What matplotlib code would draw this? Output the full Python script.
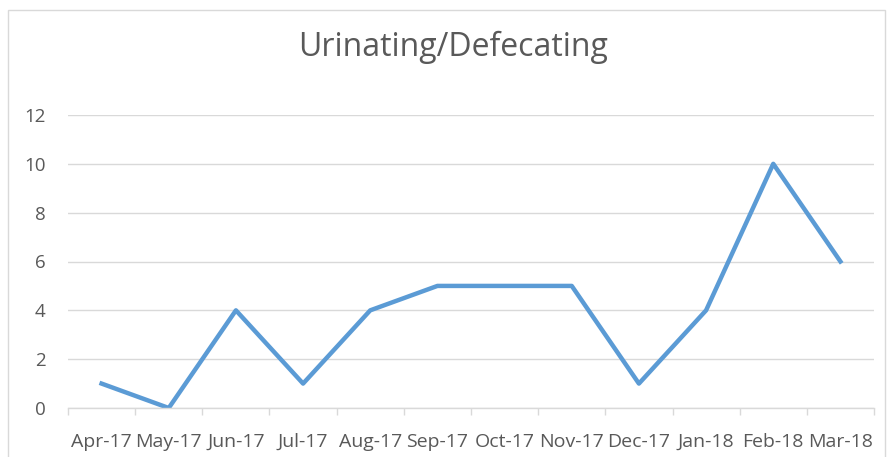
import matplotlib
matplotlib.use('Agg')
import matplotlib.pyplot as plt
from matplotlib.patches import Rectangle
import numpy as np

months = ['Apr-17', 'May-17', 'Jun-17', 'Jul-17', 'Aug-17', 'Sep-17',
          'Oct-17', 'Nov-17', 'Dec-17', 'Jan-18', 'Feb-18', 'Mar-18']
counts = [1, 0, 4, 1, 4, 5, 5, 5, 1, 4, 10, 6]
y_ticks = [0, 2, 4, 6, 8, 10, 12]

text_color = '#595959'
grid_color = '#D9D9D9'
line_color = '#5B9BD5'

plt.rcParams['font.family'] = ['Open Sans', 'DejaVu Sans']

W, H = 889, 457
fig = plt.figure(figsize=(W / 100, H / 100), dpi=100)
ax = fig.add_axes([68 / W, (H - 408) / H, (874 - 68) / W, (408 - 115) / H])

x = np.arange(len(months))
ax.plot(x, counts, color=line_color, linewidth=3.2, solid_joinstyle='round')

ax.set_xlim(-0.5, len(months) - 0.5)
ax.set_ylim(0, 12)
ax.set_yticks(y_ticks)
ax.set_xticks(x)
ax.set_xticklabels(months)
ax.set_xticks(np.arange(-0.5, len(months)), minor=True)
ax.tick_params(axis='x', which='major', length=0, pad=18, labelsize=14, colors=text_color)
ax.tick_params(axis='x', which='minor', length=5, color=grid_color, width=1)
ax.tick_params(axis='y', length=0, pad=16, labelsize=13.5, colors=text_color)

ax.grid(axis='y', color=grid_color, linewidth=1)
ax.set_axisbelow(True)
for side in ['top', 'right', 'left']:
    ax.spines[side].set_visible(False)
ax.spines['bottom'].set_color(grid_color)
ax.spines['bottom'].set_linewidth(1)

fig.text(453 / W, 1 - 47 / H, 'Urinating/Defecating', ha='center', va='center',
         fontsize=23, color=text_color)

# chart border
fig.patches.append(Rectangle((8 / W, -0.1), (885 - 8) / W, 1.1 - 10 / H,
                             transform=fig.transFigure, fill=False,
                             edgecolor=grid_color, linewidth=1))

fig.savefig('out.png', dpi=100)
